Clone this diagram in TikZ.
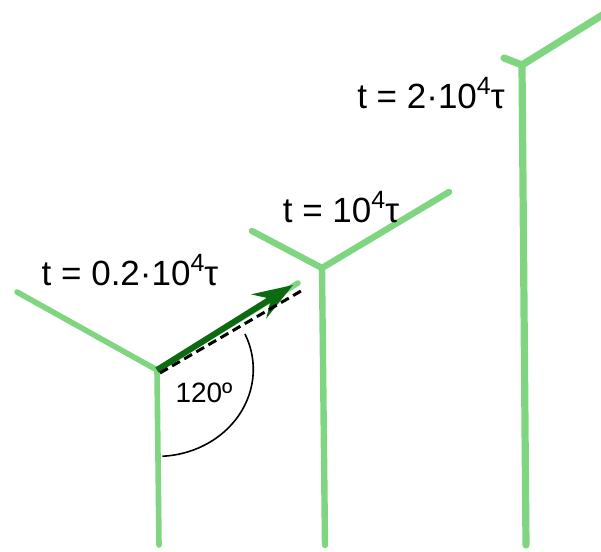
\documentclass[tikz,border=0pt]{standalone}
\usepackage{fontspec}
\setmainfont{Liberation Sans}
\usetikzlibrary{arrows.meta,positioning}
\definecolor{grain}{HTML}{80D680}
\definecolor{dgrn}{HTML}{0B6A12}
\newcommand{\pw}{\raisebox{0.42em}{\fontsize{12.5}{12}\selectfont 4}}
\tikzset{
  arm/.style={grain, line width=3.2pt, line cap=round, line join=round},
  growdir/.style={dgrn, line width=3pt, -{Stealth[length=20pt,width=14pt,inset=7pt]}},
  guide/.style={black, line width=1.5pt, dash pattern=on 4.5pt off 2.5pt},
  angarc/.style={black, line width=0.8pt},
  tlbl/.style={font=\fontsize{17.5}{20}\selectfont, inner sep=0pt},
  albl/.style={font=\fontsize{14}{16}\selectfont, inner sep=0pt},
}

\begin{document}
\begin{tikzpicture}[x=0.5pt,y=-0.5pt]
 \useasboundingbox (0,0) rectangle (601,552);
 % early junction
 \coordinate (j1) at (157,370);
 \coordinate (j1l) at (17,292);
 \coordinate (j1r) at (298,283);
 \coordinate (j1b) at (159,545);
 \draw[arm, line width=2.8pt] (j1l) -- (j1) -- (j1b);
 \draw[arm, line width=2.8pt] (j1) -- (j1r);
 % middle junction
 \coordinate (j2) at (322,268);
 \coordinate (j2l) at (252,231);
 \coordinate (j2r) at (449,192);
 \coordinate (j2b) at (325,545);
 \draw[arm] (j2l) -- (j2) -- (j2b);
 \draw[arm] (j2) -- (j2r);
 % late junction
 \coordinate (j3) at (522,65);
 \coordinate (j3l) at (504,58);
 \coordinate (j3r) at (604,14);
 \coordinate (j3b) at (526,545);
 \draw[arm, line width=3.6pt] (j3l) -- (j3) -- (j3b);
 \draw[arm, line width=3.6pt] (j3) -- (j3r);
 % growth direction and angle
 \coordinate (tip) at (293,285);
 \coordinate (d0) at (160,373);
 \coordinate (d1) at (301,291);
 \draw[growdir] (j1) -- (tip);
 \draw[guide] (d0) -- (d1);
 \draw[angarc] ([shift={(88,-36)}]j1) arc[start angle=-24, end angle=87, x radius=96, y radius=87];
 \node[albl] (ang) at (204,393) {120º};
 % times
 \node[tlbl] (lab1) at (130,270) {t = 0.2·10\pw τ};
 \node[tlbl] (lab2) at (341,207) {t = 10\pw τ};
 \node[tlbl] (lab3) at (431,93) {t = 2·10\pw τ};
\end{tikzpicture}
\end{document}
